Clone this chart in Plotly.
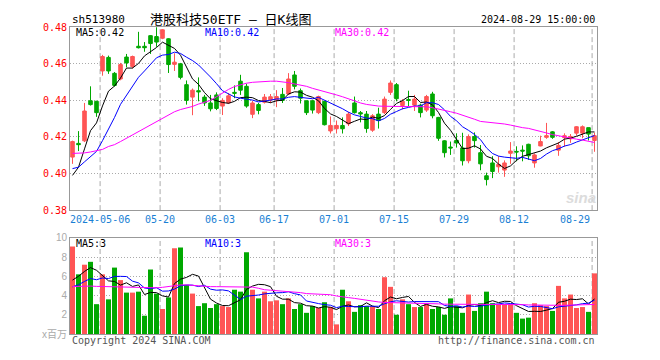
import plotly.graph_objects as go

dates = (["2024-04-%02d" % d for d in [24, 25, 26, 29, 30]] +
         ["2024-05-%02d" % d for d in [6, 7, 8, 9, 10, 13, 14, 15, 16, 17, 20, 21, 22, 23, 24, 27, 28, 29, 30, 31]] +
         ["2024-06-%02d" % d for d in [3, 4, 5, 6, 7, 11, 12, 13, 14, 17, 18, 19, 20, 21, 24, 25, 26, 27, 28]] +
         ["2024-07-%02d" % d for d in [1, 2, 3, 4, 5, 8, 9, 10, 11, 12, 15, 16, 17, 18, 19, 22, 23, 24, 25, 26, 29, 30, 31]] +
         ["2024-08-%02d" % d for d in [1, 2, 5, 6, 7, 8, 9, 12, 13, 14, 15, 16, 19, 20, 21, 22, 23, 26, 27, 28, 29]])

open_ = [0.4090, 0.4165, 0.4179, 0.4398, 0.4395, 0.4561, 0.4635, 0.4548, 0.4517, 0.4637,
         0.4585, 0.4696, 0.4696, 0.4754, 0.4749, 0.4740, 0.4737, 0.4597, 0.4600, 0.4486,
         0.4418, 0.4453, 0.4418, 0.4386, 0.4430, 0.4369, 0.4386, 0.4444, 0.4505, 0.4477,
         0.4324, 0.4377, 0.4390, 0.4403, 0.4403, 0.4433, 0.4435, 0.4539, 0.4453, 0.4398,
         0.4398, 0.4333, 0.4395, 0.4233, 0.4245, 0.4263, 0.4272, 0.4386, 0.4333, 0.4325,
         0.4237, 0.4325, 0.4333, 0.4444, 0.4486, 0.4372, 0.4405, 0.4374, 0.4374, 0.4347,
         0.4435, 0.4307, 0.4179, 0.4145, 0.4182, 0.4140, 0.4070, 0.4202, 0.4114, 0.3988,
         0.4058, 0.4037, 0.4019, 0.4111, 0.4121, 0.4128, 0.4160, 0.4058, 0.4151, 0.4198,
         0.4228, 0.4128, 0.4196, 0.4190, 0.4221, 0.4221, 0.4251, 0.4181]
high = [0.4180, 0.4232, 0.4386, 0.4477, 0.4398, 0.4649, 0.4645, 0.4555, 0.4605, 0.4654,
        0.4645, 0.4775, 0.4719, 0.4757, 0.4805, 0.4790, 0.4740, 0.4658, 0.4605, 0.4509,
        0.4465, 0.4526, 0.4430, 0.4430, 0.4444, 0.4412, 0.4440, 0.4482, 0.4540, 0.4491,
        0.4398, 0.4386, 0.4435, 0.4435, 0.4456, 0.4468, 0.4549, 0.4561, 0.4465, 0.4400,
        0.4403, 0.4426, 0.4398, 0.4312, 0.4290, 0.4307, 0.4337, 0.4421, 0.4342, 0.4342,
        0.4325, 0.4360, 0.4421, 0.4509, 0.4495, 0.4407, 0.4453, 0.4430, 0.4382, 0.4430,
        0.4447, 0.4310, 0.4182, 0.4175, 0.4220, 0.4223, 0.4214, 0.4225, 0.4156, 0.4005,
        0.4095, 0.4095, 0.4072, 0.4172, 0.4149, 0.4154, 0.4163, 0.4110, 0.4207, 0.4277,
        0.4232, 0.4172, 0.4220, 0.4216, 0.4260, 0.4263, 0.4251, 0.4224]
low = [0.4053, 0.4123, 0.4172, 0.4372, 0.4310, 0.4535, 0.4545, 0.4475, 0.4510, 0.4581,
       0.4575, 0.4684, 0.4666, 0.4654, 0.4693, 0.4735, 0.4550, 0.4561, 0.4515, 0.4377,
       0.4319, 0.4395, 0.4370, 0.4340, 0.4347, 0.4320, 0.4380, 0.4412, 0.4430, 0.4360,
       0.4303, 0.4324, 0.4383, 0.4385, 0.4363, 0.4386, 0.4430, 0.4460, 0.4383, 0.4320,
       0.4328, 0.4325, 0.4263, 0.4219, 0.4219, 0.4219, 0.4260, 0.4328, 0.4280, 0.4223,
       0.4228, 0.4246, 0.4325, 0.4430, 0.4395, 0.4351, 0.4368, 0.4342, 0.4307, 0.4337,
       0.4302, 0.4179, 0.4088, 0.4102, 0.4142, 0.4044, 0.4056, 0.4142, 0.4018, 0.3935,
       0.3975, 0.4005, 0.3982, 0.4053, 0.4067, 0.4067, 0.4075, 0.4032, 0.4149, 0.4190,
       0.4190, 0.4097, 0.4147, 0.4168, 0.4207, 0.4193, 0.4181, 0.4119]
close = [0.4175, 0.4158, 0.4342, 0.4377, 0.4333, 0.4640, 0.4561, 0.4482, 0.4596, 0.4605,
         0.4640, 0.4688, 0.4688, 0.4711, 0.4719, 0.4786, 0.4596, 0.4609, 0.4526, 0.4400,
         0.4456, 0.4447, 0.4386, 0.4354, 0.4356, 0.4400, 0.4425, 0.4439, 0.4456, 0.4369,
         0.4386, 0.4345, 0.4418, 0.4420, 0.4421, 0.4400, 0.4517, 0.4477, 0.4412, 0.4333,
         0.4347, 0.4421, 0.4267, 0.4263, 0.4263, 0.4245, 0.4325, 0.4333, 0.4326, 0.4246,
         0.4316, 0.4290, 0.4407, 0.4495, 0.4409, 0.4395, 0.4400, 0.4407, 0.4333, 0.4421,
         0.4316, 0.4193, 0.4114, 0.4140, 0.4167, 0.4070, 0.4202, 0.4180, 0.4053, 0.3967,
         0.4011, 0.4050, 0.4058, 0.4123, 0.4118, 0.4123, 0.4097, 0.4102, 0.4175, 0.4207,
         0.4198, 0.4154, 0.4207, 0.4203, 0.4256, 0.4256, 0.4216, 0.4207]
volume = [9.1, 6.2, 7.2, 7.5, 3.1, 6.2, 3.6, 6.9, 5.6, 4.3,
          4.3, 4.4, 1.9, 6.7, 4.2, 2.6, 3.8, 8.9, 9.0, 5.1,
          4.2, 2.9, 3.2, 2.7, 3.1, 2.9, 2.8, 4.6, 4.4, 8.5,
          4.6, 3.7, 4.4, 3.4, 3.5, 3.1, 3.7, 2.6, 3.1, 2.2,
          2.9, 2.7, 3.3, 2.8, 1.0, 4.6, 3.4, 2.3, 3.0, 2.9,
          2.9, 2.6, 5.9, 4.9, 2.0, 3.6, 3.1, 2.8, 2.8, 3.1,
          2.6, 2.8, 2.0, 3.7, 2.9, 2.2, 4.1, 2.4, 3.2, 4.4,
          3.2, 3.1, 3.1, 3.1, 2.2, 1.6, 1.7, 3.2, 3.0, 2.9,
          2.4, 5.0, 3.7, 4.1, 2.7, 2.8, 2.3, 6.3]
ma30_price = [0.4110, 0.4110, 0.4113, 0.4118, 0.4124, 0.4132, 0.4148, 0.4158, 0.4175, 0.4193,
              0.4210, 0.4228, 0.4246, 0.4264, 0.4281, 0.4298, 0.4318, 0.4338, 0.4350, 0.4358,
              0.4367, 0.4380, 0.4390, 0.4400, 0.4420, 0.4442, 0.4460, 0.4476, 0.4486, 0.4494,
              0.4499, 0.4502, 0.4504, 0.4505, 0.4505, 0.4503, 0.4497, 0.4490, 0.4484, 0.4477,
              0.4466, 0.4458, 0.4450, 0.4440, 0.4430, 0.4420, 0.4408, 0.4397, 0.4386, 0.4378,
              0.4372, 0.4369, 0.4368, 0.4368, 0.4368, 0.4368, 0.4368, 0.4367, 0.4366, 0.4365,
              0.4360, 0.4354, 0.4346, 0.4338, 0.4330, 0.4320, 0.4308, 0.4297, 0.4285, 0.4282,
              0.4279, 0.4276, 0.4271, 0.4265, 0.4257, 0.4251, 0.4247, 0.4240, 0.4231, 0.4222,
              0.4213, 0.4206, 0.4199, 0.4193, 0.4188, 0.4183, 0.4177, 0.4170]
ma30_volume = [4.93, 4.95, 5.00, 4.98, 4.95, 4.93, 4.92, 4.90, 4.90, 4.90,
               4.88, 4.87, 4.85, 4.82, 4.80, 4.85, 4.93, 5.00, 5.10, 5.10,
               5.05, 4.98, 4.93, 4.92, 4.92, 4.92, 4.90, 4.90, 4.92, 4.90,
               4.87, 4.75, 4.60, 4.55, 4.50, 4.48, 4.45, 4.40, 4.30, 4.20,
               4.18, 4.15, 4.12, 4.08, 3.95, 3.90, 3.78, 3.70, 3.60, 3.50,
               3.40, 3.33, 3.28, 3.27, 3.27, 3.25, 3.23, 3.20, 3.20, 3.18,
               3.15, 3.13, 3.10, 3.10, 3.08, 3.07, 3.07, 3.07, 3.07, 3.08,
               3.08, 3.08, 3.08, 3.07, 3.07, 3.05, 3.02, 3.00, 3.00, 3.00,
               2.98, 2.98, 2.98, 3.00, 3.02, 3.05, 3.07, 3.07]
# closes / volumes of the 9 sessions before the first visible one (from the MA lines' start)
prior_close = [0.408, 0.405, 0.410, 0.404, 0.405, 0.3935, 0.384, 0.388, 0.412]
prior_volume = [4.0, 3.8, 4.5, 4.3, 4.4, 4.2, 4.7, 5.5, 4.5]

tick_dates = ["2024-05-06", "2024-05-20", "2024-06-03", "2024-06-17", "2024-07-01",
              "2024-07-15", "2024-07-29", "2024-08-12", "2024-08-29"]
tick_labels = ["2024-05-06", "05-20", "06-03", "06-17", "07-01", "07-15", "07-29", "08-12", "08-29"]
price_ticks = [0.38, 0.40, 0.42, 0.44, 0.46, 0.48]
vol_ticks = [0, 2, 4, 6, 8, 10]
vol_tick_labels = ["x百万", "2", "4", "6", "8", "10"]


def rolling(values, prior, n):
    full = list(prior) + list(values)
    off = len(prior)
    out = []
    for i in range(len(values)):
        w = full[off + i - n + 1: off + i + 1]
        out.append(sum(w) / len(w))
    return out


ma5_price = rolling(close, prior_close, 5)
ma10_price = rolling(close, prior_close, 10)
ma5_vol = rolling(volume, prior_volume, 5)
ma10_vol = rolling(volume, prior_volume, 10)

RED = "#ff5555"
GREEN = "#00a800"
GRID = "#aaaaaa"
BORDER = "#999999"
MONO = "DejaVu Sans Mono, Noto Sans CJK SC"

vol_colors = [RED if c >= o else GREEN for o, c in zip(open_, close)]

# the page body adds an 8px margin; figure laid out in window pixels minus that offset
OFF = 8
W, H = 660 - 2 * OFF, 360 - 2 * OFF
L = 70 - OFF
R = W - (597 - OFF)
T = 20 - OFF
B = H - (340 - OFF)
PW, PH = W - L - R, H - T - B


def px(x):
    return (x - OFF - L) / PW


def py(y):
    return (H - B - (y - OFF)) / PH


fig = go.Figure()
fig.add_trace(go.Candlestick(
    x=dates, open=open_, high=high, low=low, close=close,
    increasing=dict(line=dict(color=RED, width=1), fillcolor=RED),
    decreasing=dict(line=dict(color=GREEN, width=1), fillcolor=GREEN),
    whiskerwidth=0, xaxis="x", yaxis="y", hoverinfo="skip"))
for vals, col in [(ma5_price, "#000000"), (ma10_price, "#0000ff"), (ma30_price, "#ff00ff")]:
    fig.add_trace(go.Scatter(x=dates, y=vals, mode="lines", line=dict(color=col, width=1),
                             xaxis="x", yaxis="y", hoverinfo="skip"))

fig.add_trace(go.Bar(x=dates, y=volume, marker=dict(color=vol_colors, line=dict(width=0)),
                     width=0.83, xaxis="x2", yaxis="y2", hoverinfo="skip"))
for vals, col in [(ma5_vol, "#000000"), (ma10_vol, "#0000ff"), (ma30_volume, "#ff00ff")]:
    fig.add_trace(go.Scatter(x=dates, y=vals, mode="lines", line=dict(color=col, width=1),
                             xaxis="x2", yaxis="y2", hoverinfo="skip"))

xr = [-0.4167, len(dates) - 1 + 0.4167]
price_dom = [py(211.3), min(1.0, py(21.3))]
vol_dom = [py(340), py(240)]

axis_common = dict(showline=True, mirror=True, linecolor=BORDER, linewidth=1, zeroline=False,
                   ticks="", fixedrange=True)
fig.update_layout(
    width=W, height=H, margin=dict(l=L, r=R, t=T, b=B),
    paper_bgcolor="white", plot_bgcolor="white", showlegend=False,
    boxgap=0.15,
    xaxis=dict(type="category", range=xr, domain=[0, 1], anchor="y", showgrid=False,
               showticklabels=False, rangeslider=dict(visible=False), **axis_common),
    xaxis2=dict(type="category", range=xr, domain=[0, 1], anchor="y2", matches="x", showgrid=False,
                showticklabels=False, **axis_common),
    yaxis=dict(domain=price_dom, range=[0.38, 0.48], anchor="x", tickvals=price_ticks,
               ticktext=["%.2f" % v for v in price_ticks],
               tickfont=dict(family=MONO, size=10, color="#ff0000"),
               showgrid=True, gridcolor=GRID, griddash="1px,2px", gridwidth=1, **axis_common),
    yaxis2=dict(domain=vol_dom, range=[0, 10], anchor="x2", tickvals=vol_ticks,
                ticktext=vol_tick_labels,
                tickfont=dict(family="Liberation Sans, Noto Sans CJK SC", size=10, color="#aaaaaa"),
                showgrid=True, gridcolor=GRID, griddash="1px,2px", gridwidth=1, **axis_common),
)

shapes = []
for d in tick_dates:
    xi = dates.index(d) - 0.4
    for yr in ["y domain", "y2 domain"]:
        shapes.append(dict(type="line", xref="x", yref=yr, x0=xi, x1=xi, y0=0, y1=1,
                           line=dict(color=GRID, width=1, dash="5px,3px"), layer="below"))
fig.update_layout(shapes=shapes)

ann = []


def text(t, x, y, anchor="left", color="#000000", size=10, family=MONO):
    ann.append(dict(text=t, x=px(x), y=py(y), xref="paper", yref="paper", xanchor=anchor,
                    yanchor="middle", showarrow=False, font=dict(family=family, size=size, color=color)))


text("sh513980", 70, 13, size=11)
text("港股科技50ETF — 日K线图", 230, 13, anchor="center", size=13)
text("2024-08-29 15:00:00", 597, 13, anchor="right", size=10)
text("MA5:%.2f" % ma5_price[-1], 74, 27)
text("MA10:%.2f" % ma10_price[-1], 203, 27, color="#0000ff")
text("MA30:%.2f" % ma30_price[-1], 333, 27, color="#ff00ff")
text("MA5:%d" % int(ma5_vol[-1]), 74, 246)
text("MA10:%d" % int(ma10_vol[-1]), 203, 246, color="#0000ff")
text("MA30:%d" % int(ma30_volume[-1]), 333, 246, color="#ff00ff")
text("Copyright 2024 SINA.COM", 70, 347, color="#555555")
text("http://finance.sina.com.cn", 597, 347, anchor="right", color="#555555")
text("<b><i>sina</i></b>", 581, 198, anchor="center", color="#dcdcdc", size=15, family="Liberation Sans")

for i, (d, lab) in enumerate(zip(tick_dates, tick_labels)):
    last = i == len(tick_dates) - 1
    ann.append(dict(text=lab, x=dates.index(d) - 0.4, y=py(221.5), xref="x", yref="paper",
                    xanchor="right" if last else "center", yanchor="middle", showarrow=False,
                    font=dict(family=MONO, size=10, color="#1a7fd4")))

fig.update_layout(annotations=ann)
fig.write_html("out.html")
